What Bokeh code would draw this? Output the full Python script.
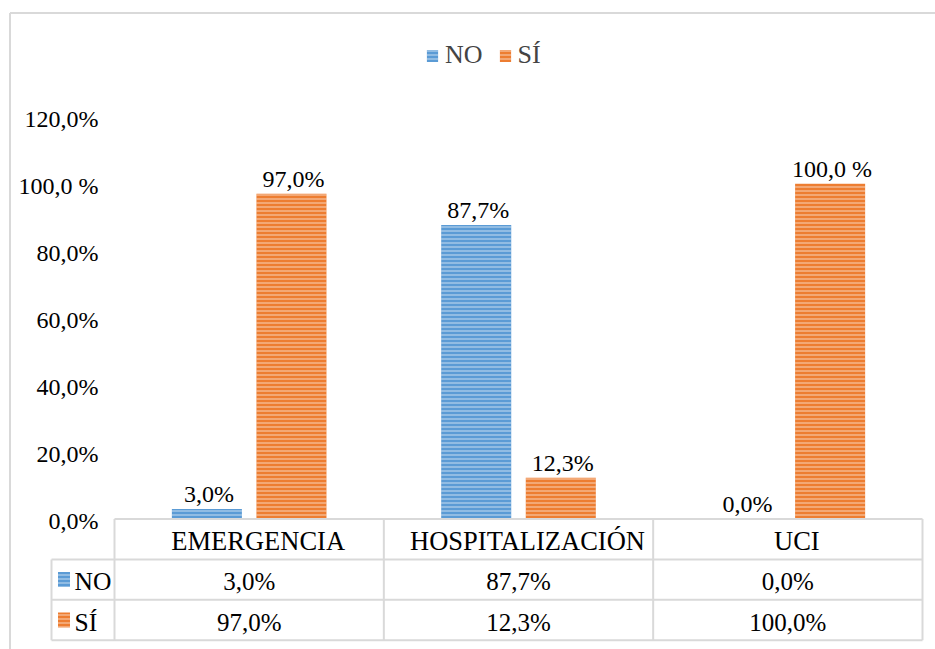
from bokeh.plotting import figure
from bokeh.models import ColumnDataSource, Range1d, Legend, LegendItem
from bokeh.transform import dodge
from bokeh.core.properties import value
from bokeh.embed import file_html
from bokeh.resources import INLINE

# ---- data -------------------------------------------------------------
categories = ["EMERGENCIA", "HOSPITALIZACIÓN", "UCI"]
series_names = ["NO", "SÍ"]
no_values = [3.0, 87.7, 0.0]
si_values = [97.0, 12.3, 100.0]
no_bar_labels = ["3,0%", "87,7%", "0,0%"]
si_bar_labels = ["97,0%", "12,3%", "100,0 %"]
y_ticks = [0, 20, 40, 60, 80, 100, 120]
y_tick_labels = ["0,0%", "20,0%", "40,0%", "60,0%", "80,0%", "100,0 %", "120,0%"]

# ---- styling ------------------------------------------------------------
BLUE = "#5B9BD5"
ORANGE = "#ED7D31"
GRID_GREY = "#D9D9D9"
FONT_NAME = "'Liberation Serif'"
FONT = value(FONT_NAME)

# ---- geometry: one category band per table column -----------------------
W, H = 935, 649
BAND_LEFT, BAND_RIGHT = 114, 922
ZERO_PX = 518.5
PX_PER_PCT = 3.353
col_px = (BAND_RIGHT - BAND_LEFT) / len(categories)

x_start = -BAND_LEFT / col_px
x_end = len(categories) + (W - BAND_RIGHT) / col_px
y_end = ZERO_PX / PX_PER_PCT
y_start = -(H - ZERO_PX) / PX_PER_PCT


def xpx(px):
    return x_start + px / col_px


def ypx(py):
    return y_end - py / PX_PER_PCT


BAR_OFFSET = 0.157
BAR_WIDTH = 0.26
ROW_H = 12.05  # table row height in percent units


def fmt(v):
    return f"{v:.1f}".replace(".", ",") + "%"


centers = [i + 0.5 for i in range(len(categories))]
src = ColumnDataSource(dict(
    x=centers, cat=categories,
    no=no_values, si=si_values,
    no_lab=no_bar_labels, si_lab=si_bar_labels,
    no_txt=[fmt(v) for v in no_values],
    si_txt=[fmt(v) for v in si_values],
))

p = figure(width=W, height=H,
           x_range=Range1d(x_start, x_end), y_range=Range1d(y_start, y_end),
           output_backend="svg", toolbar_location=None,
           x_axis_location=None, y_axis_location=None,
           min_border=0)
p.outline_line_color = None
p.background_fill_color = "white"
p.border_fill_color = "white"
p.xgrid.visible = False
p.ygrid.visible = False

# outer frame of the chart
p.segment(x0=[xpx(9.5), xpx(9.5)], y0=[ypx(12.5), ypx(12.5)],
          x1=[xpx(9.5), xpx(945)], y1=[ypx(660), ypx(12.5)],
          line_color=GRID_GREY, line_width=2)

# bars with horizontal stripe fill
hatch = dict(hatch_pattern="horizontal_line", hatch_color="white",
             hatch_alpha=0.55, hatch_scale=4, hatch_weight=1.2)
r_no = p.vbar(x=dodge("x", -BAR_OFFSET, range=p.x_range), top="no",
              width=BAR_WIDTH, source=src, fill_color=BLUE,
              line_color=None, **hatch)
r_si = p.vbar(x=dodge("x", BAR_OFFSET, range=p.x_range), top="si",
              width=BAR_WIDTH, source=src, fill_color=ORANGE,
              line_color=None, **hatch)

# value labels above bars
lab = dict(text_align="center", text_baseline="bottom", y_offset=-2,
           text_font=FONT, text_font_size="24px", text_color="black")
p.text(x=dodge("x", -BAR_OFFSET, range=p.x_range), y="no", text="no_lab",
       source=src, x_offset=2, **lab)
p.text(x=dodge("x", BAR_OFFSET, range=p.x_range), y="si", text="si_lab",
       source=src, x_offset=2, **lab)

# value axis labels
p.text(x=[xpx(98)] * len(y_ticks), y=y_ticks, text=y_tick_labels,
       text_align="right", text_baseline="middle", y_offset=2,
       text_font=FONT, text_font_size="24px", text_color="black")

# ---- data table under the bars -------------------------------------------
n = len(categories)
tab_left = xpx(51)
row_lines = [-ROW_H, -2 * ROW_H, -3 * ROW_H]
p.segment(x0=[0] + [tab_left] * 3, y0=[0] + row_lines,
          x1=[n] * 4, y1=[0] + row_lines,
          line_color=GRID_GREY, line_width=2)
p.segment(x0=list(range(n + 1)), y0=[0] * (n + 1),
          x1=list(range(n + 1)), y1=[-3 * ROW_H] * (n + 1),
          line_color=GRID_GREY, line_width=2)
p.segment(x0=[tab_left], y0=[-ROW_H], x1=[tab_left], y1=[-3 * ROW_H],
          line_color=GRID_GREY, line_width=2)

cell = dict(text_align="center", text_baseline="middle", y_offset=2,
            text_font=FONT, text_color="black")
p.text(x="x", y=-0.5 * ROW_H, text="cat", source=src, x_offset=9,
       text_font_size="26.5px", **cell)
p.text(x="x", y=-1.5 * ROW_H, text="no_txt", source=src,
       text_font_size="25px", **cell)
p.text(x="x", y=-2.5 * ROW_H, text="si_txt", source=src,
       text_font_size="25px", **cell)

# series keys in the table's first column
row_y = [-1.5 * ROW_H, -2.5 * ROW_H]
p.rect(x=[xpx(63.5)] * 2, y=row_y, width=12, height=15,
       width_units="screen", height_units="screen",
       fill_color=[BLUE, ORANGE], line_color=None, **hatch)
p.text(x=[xpx(74)] * 2, y=row_y, text=series_names,
       text_align="left", text_baseline="middle", y_offset=2,
       text_font=FONT, text_font_size="25.5px", text_color="black")

# legend on top
legend = Legend(items=[LegendItem(label=series_names[0], renderers=[r_no]),
                       LegendItem(label=series_names[1], renderers=[r_si])],
                orientation="horizontal", location=(425, 579),
                border_line_color=None, background_fill_alpha=0,
                padding=0, margin=0, spacing=15, label_standoff=6,
                glyph_width=14, glyph_height=15,
                label_text_font=FONT_NAME,
                label_text_font_size="26px")
p.add_layout(legend)

open("out.html", "w").write(file_html(p, INLINE))
